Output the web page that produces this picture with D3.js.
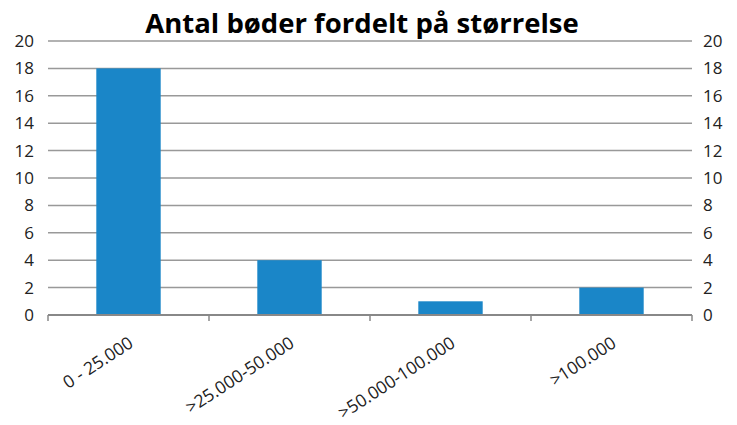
<!DOCTYPE html>
<html><head><meta charset="utf-8">
<script src="https://cdn.jsdelivr.net/npm/d3@7"></script>
<style>body{margin:0;background:#fff}svg{display:block}text{font-family:"Open Sans","DejaVu Sans",sans-serif;fill:#222}</style>
</head><body><svg id="c" width="737" height="425"></svg>
<script>
const categories = ["0 - 25.000", ">25.000-50.000", ">50.000-100.000", ">100.000"];
const values = [18, 4, 1, 2];
const yTicks = [0,2,4,6,8,10,12,14,16,18,20];
const title = "Antal bøder fordelt på størrelse";

const svg = d3.select("#c");
const m = {l:48, r:692, t:41, b:315};
const x = d3.scaleBand().domain(categories).range([m.l, m.r]).paddingInner(0.6).paddingOuter(0.3);
const xb = d3.scaleBand().domain(categories).range([m.l, m.r]);
const y = d3.scaleLinear().domain([0,20]).range([m.b, m.t]);

svg.append("text").attr("x", 362).attr("y", 33).attr("text-anchor","middle")
  .style("font-size","27.5px").style("font-weight","bold").style("fill","#000").text(title);

// gridlines
svg.append("g").selectAll("line").data(yTicks.filter(d=>d>0)).join("line")
  .attr("x1", m.l).attr("x2", m.r).attr("y1", d=>y(d)).attr("y2", d=>y(d))
  .attr("stroke","#999").attr("stroke-width",1.5);

// bars
svg.append("g").selectAll("rect").data(values).join("rect")
  .attr("x",(d,i)=>x(categories[i])).attr("width",x.bandwidth())
  .attr("y",d=>y(d)).attr("height",d=>y(0)-y(d)).attr("fill","#1a86c8");

// axis line + ticks
svg.append("line").attr("x1",m.l).attr("x2",m.r).attr("y1",y(0)).attr("y2",y(0)).attr("stroke","#888").attr("stroke-width",2);
const bounds = categories.map(c=>xb(c)).concat([m.r]);
svg.append("g").selectAll("line").data(bounds).join("line")
  .attr("x1",d=>d).attr("x2",d=>d).attr("y1",y(0)).attr("y2",y(0)+6).attr("stroke","#888").attr("stroke-width",1.5);

// y labels
svg.append("g").selectAll("text").data(yTicks).join("text")
  .attr("x",34).attr("y",d=>y(d)+6).attr("text-anchor","end").style("font-size","17px").text(d=>d);
svg.append("g").selectAll("text").data(yTicks).join("text")
  .attr("x",703).attr("y",d=>y(d)+6).attr("text-anchor","start").style("font-size","17px").text(d=>d);

// x labels
svg.append("g").selectAll("text").data(categories).join("text")
  .attr("text-anchor","end").style("font-size","17.5px")
  .attr("transform",d=>`translate(${xb(d)+xb.bandwidth()/2+6},${y(0)+31}) rotate(-33)`)
  .text(d=>d);
</script></body></html>
